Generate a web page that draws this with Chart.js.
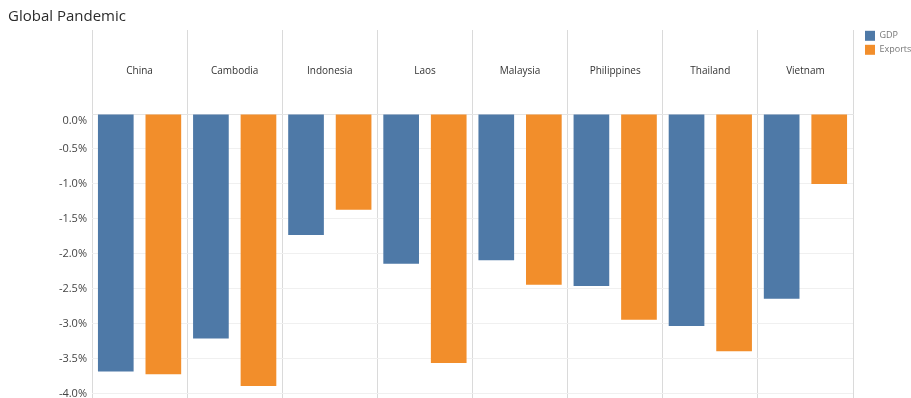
<!DOCTYPE html>
<html>
<head>
<meta charset="utf-8">
<title>Global Pandemic</title>
<script src="https://cdn.jsdelivr.net/npm/chart.js@4.4.1/dist/chart.umd.min.js"></script>
<style>
  html, body { margin: 0; padding: 0; background: #fff; }
  #wrap { width: 911px; height: 398px; }
</style>
</head>
<body>
<div id="wrap"><canvas id="impactChart" width="911" height="398"></canvas></div>
<script>
// Data
const countries = ['China', 'Cambodia', 'Indonesia', 'Laos', 'Malaysia', 'Philippines', 'Thailand', 'Vietnam'];
const gdpChange = [-3.68, -3.21, -1.73, -2.14, -2.09, -2.46, -3.03, -2.64];
const exportsChange = [-3.72, -3.89, -1.37, -3.56, -2.44, -2.94, -3.39, -1.00];
const yTicks = [0, -0.5, -1, -1.5, -2, -2.5, -3, -3.5, -4];

const FONT = '"Open Sans", "DejaVu Sans", sans-serif';

const ctx = document.getElementById('impactChart').getContext('2d');
const chart = new Chart(ctx, {
  type: 'bar',
  data: {
    labels: countries,
    datasets: [
      { label: 'GDP', data: gdpChange, backgroundColor: '#4e79a7', borderWidth: 0 },
      { label: 'Exports', data: exportsChange, backgroundColor: '#f28e2b', borderWidth: 0 }
    ]
  },
  options: {
    responsive: false,
    animation: false,
    categoryPercentage: 1.0,
    barPercentage: 0.75,
    layout: { padding: { left: 8, right: 0, top: 0, bottom: 0 } },
    plugins: {
      title: {
        display: true,
        text: 'Global Pandemic',
        align: 'start',
        color: '#2b2b2b',
        font: { family: FONT, size: 15, weight: 'normal' },
        padding: { top: 8, bottom: 1 }
      },
      legend: {
        position: 'right',
        align: 'start',
        maxWidth: 50,
        // empty title keeps the swatches level with the header row
        title: { display: true, text: '', font: { size: 9 }, padding: { top: 0, bottom: 16 } },
        labels: {
          boxWidth: 10,
          boxHeight: 10,
          padding: 4,
          color: '#777',
          font: { family: FONT, size: 9 }
        }
      },
      tooltip: { enabled: false }
    },
    scales: {
      x: {
        position: 'top',
        grid: {
          color: '#dadada',
          offset: true,
          drawTicks: true,
          tickLength: 84
        },
        border: { display: true, color: '#e4e4e4' },
        ticks: {
          color: '#333',
          font: { family: FONT, size: 10 },
          padding: -47,
          maxRotation: 0,
          autoSkip: false
        },
        // header row holding the country names
        afterFit: s => { s.height = 87; }
      },
      y: {
        min: -4.06,
        max: 0,
        grid: { color: '#f0f0f0', drawTicks: false },
        border: { display: false },
        ticks: {
          color: '#444',
          font: { family: FONT, size: 11 },
          padding: 5,
          // the zero label sits just under the top edge
          callback: v => v === 0 ? ['', '0.0%'] : v.toFixed(1) + '%'
        },
        afterBuildTicks: s => { s.ticks = yTicks.map(v => ({ value: v })); },
        afterFit: s => {
          s.width = 84;
          // let the bottom label run off the edge
          s.paddingTop = 0;
          s.paddingBottom = 0;
        }
      },
      // spacer between the plot and the legend
      gap: {
        type: 'linear',
        position: 'right',
        grid: { display: false },
        border: { display: false },
        ticks: { display: false },
        afterFit: s => { s.width = 8; }
      }
    }
  }
});
</script>
</body>
</html>
